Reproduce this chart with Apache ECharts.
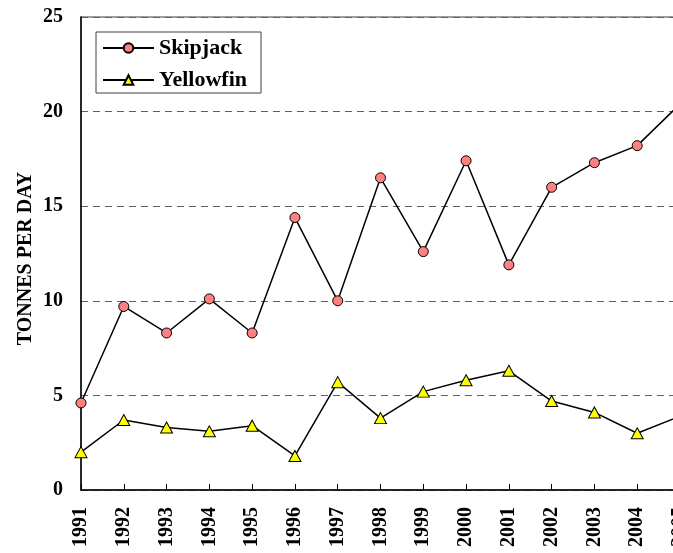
<!DOCTYPE html>
<html>
<head>
<meta charset="utf-8">
<script src="https://cdn.jsdelivr.net/npm/echarts@6/dist/echarts.min.js"></script>
<style>
  html, body { margin: 0; padding: 0; background: #ffffff; }
  #chart { width: 673px; height: 553px; }
</style>
</head>
<body>
<div id="chart"></div>
<script>
// Fishing years on the horizontal axis
const years = ['1991', '1992', '1993', '1994', '1995', '1996', '1997', '1998',
               '1999', '2000', '2001', '2002', '2003', '2004', '2005'];

// Catch rates, tonnes per day
const skipjack  = [4.6, 9.7, 8.3, 10.1, 8.3, 14.4, 10.0, 16.5, 12.6, 17.4, 11.9, 16.0, 17.3, 18.2, 20.4];
const yellowfin = [2.0, 3.7, 3.3, 3.1, 3.4, 1.8, 5.7, 3.8, 5.2, 5.8, 6.3, 4.7, 4.1, 3.0, 3.9];

const serif = "'Liberation Serif', 'Times New Roman', serif";

const chart = echarts.init(document.getElementById('chart'), null, { renderer: 'canvas' });

chart.setOption({
  backgroundColor: '#ffffff',
  animation: false,
  grid: {
    left: 81,
    width: 599,
    top: 17,
    bottom: 63,
    outerBoundsMode: 'none',
    containLabel: false,
    show: true,
    borderColor: '#808080',
    borderWidth: 1.5,
    backgroundColor: 'transparent'
  },
  legend: {
    orient: 'vertical',
    left: 96,
    top: 32,
    backgroundColor: '#ffffff',
    borderColor: '#404040',
    borderWidth: 1,
    borderRadius: 0,
    padding: [5, 14, 2, 6],
    itemGap: 10,
    itemWidth: 51,
    itemHeight: 12,
    textStyle: { fontFamily: serif, fontWeight: 'bold', fontSize: 22, color: '#000000' },
    data: ['Skipjack', 'Yellowfin']
  },
  xAxis: {
    type: 'category',
    data: years,
    boundaryGap: false,
    axisLine: { lineStyle: { color: '#000000', width: 1.5 } },
    axisTick: { show: true, inside: true, length: 6, lineStyle: { color: '#000000', width: 1 } },
    axisLabel: {
      rotate: 90,
      margin: 17,
      interval: 0,
      fontFamily: serif,
      fontWeight: 'bold',
      fontSize: 20,
      color: '#000000'
    },
    splitLine: { show: false }
  },
  yAxis: {
    type: 'value',
    min: 0,
    max: 25,
    interval: 5,
    name: 'TONNES PER DAY',
    nameLocation: 'middle',
    nameGap: 45,
    nameMoveOverlap: false,
    nameRotate: 90,
    nameTextStyle: { fontFamily: serif, fontWeight: 'bold', fontSize: 20, color: '#000000', padding: [0, 10, 0, 0] },
    axisLine: { show: true, lineStyle: { color: '#000000', width: 1.5 } },
    axisTick: { show: false },
    axisLabel: { margin: 18, fontFamily: serif, fontWeight: 'bold', fontSize: 20, color: '#000000' },
    splitLine: { show: true, lineStyle: { color: '#606060', width: 1.2, type: [7, 5] } }
  },
  series: [
    {
      name: 'Skipjack',
      type: 'line',
      data: skipjack,
      symbol: 'circle',
      symbolSize: 10,
      showAllSymbol: true,
      itemStyle: { color: '#ff8080', borderColor: '#000000', borderWidth: 1 },
      lineStyle: { color: '#000000', width: 1.5 },
      z: 3
    },
    {
      name: 'Yellowfin',
      type: 'line',
      data: yellowfin,
      symbol: 'triangle',
      symbolSize: [12, 11],
      showAllSymbol: true,
      itemStyle: { color: '#ffff00', borderColor: '#000000', borderWidth: 1 },
      lineStyle: { color: '#000000', width: 1.5 },
      z: 3
    }
  ]
});
</script>
</body>
</html>
